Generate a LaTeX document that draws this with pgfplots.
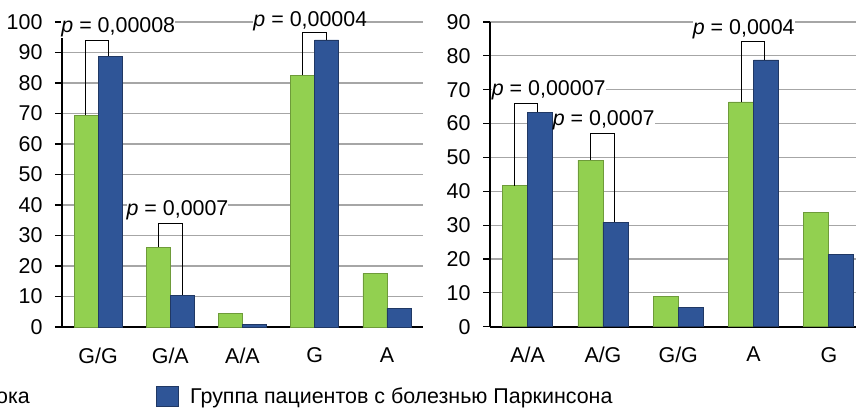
\documentclass[border=0pt]{standalone}
\usepackage{pgfplots}
\pgfplotsset{compat=1.18}
\usepackage{fontspec}
\setmainfont{Liberation Sans}
\definecolor{cgreen}{HTML}{92D050}
\definecolor{cgreenb}{HTML}{6E9B3A}
\definecolor{cblue}{HTML}{2F5597}
\definecolor{cblueb}{HTML}{203864}
\definecolor{cgrid}{HTML}{A6A6A6}
\newcommand{\fs}{\fontsize{21.5}{25}\selectfont}
\pgfplotsset{
  mybase/.style={
    scale only axis, ybar=0pt, ymin=0, xmin=-0.5, xmax=4.5,
    clip=false,
    axis lines*=left,
    axis line style={black, line width=2bp},
    ymajorgrids, grid style={cgrid, line width=1.2bp},
    xtick={0,1,2,3,4},
    major x tick style={draw=none},
    ytick style={black, line width=1.2bp},
    tick align=outside, major tick length=7bp,
    tick label style={font=\fs},
    /pgf/number format/assume math mode=true,
    xticklabel style={yshift=-10bp},
    yticklabel style={xshift=-9bp},
    anchor=south west,
  },
  bracket/.style={sharp plot, black, line width=1bp, forget plot},
}
\tikzset{plab/.style={fill=white, inner xsep=0pt, inner ysep=1bp, anchor=base, font=\fs}}
\begin{document}
\begin{tikzpicture}
\useasboundingbox (0,0) rectangle (856bp,409bp);
\clip (0,0) rectangle (856bp,409bp);
% left chart
\begin{axis}[mybase, width=361bp, height=305bp, at={(62bp,82bp)},
  ymax=100, ytick={0,10,...,100}, bar width=24bp,
  xticklabels={G/G,G/A,A/A,G,A}]
\addplot[fill=cgreen, draw=cgreenb, line width=0.8bp] coordinates {(0,69.5) (1,26.2) (2,4.4) (3,82.5) (4,17.6)};
\addplot[fill=cblue, draw=cblueb, line width=0.8bp] coordinates {(0,88.8) (1,10.4) (2,0.8) (3,94.1) (4,6.1)};
\addplot[bracket] coordinates {(-0.17,69.5) (-0.17,93.8) (0.15,93.8) (0.15,88.8)};
\addplot[bracket] coordinates {(0.83,26.2) (0.83,33.8) (1.17,33.8) (1.17,10.4)};
\addplot[bracket] coordinates {(2.83,82.5) (2.83,96.6) (3.17,96.6) (3.17,94.1)};
\node[plab] at (axis cs:0.28,96.7) {\textit{p} = 0,00008};
\node[plab] at (axis cs:1.10,36.7) {\textit{p} = 0,0007};
\node[plab] at (axis cs:2.94,98.4) {\textit{p} = 0,00004};
\end{axis}
% right chart
\begin{axis}[mybase, width=376.5bp, height=304.7bp, at={(490bp,82.3bp)},
  ymax=90, ytick={0,10,...,90}, bar width=25bp,
  xticklabels={A/A,A/G,G/G,A,G}]
\addplot[fill=cgreen, draw=cgreenb, line width=0.8bp] coordinates {(0,41.7) (1,49.2) (2,9.0) (3,66.4) (4,33.7)};
\addplot[fill=cblue, draw=cblueb, line width=0.8bp] coordinates {(0,63.3) (1,30.8) (2,5.8) (3,78.8) (4,21.3)};
\addplot[bracket] coordinates {(-0.174,41.7) (-0.174,65.8) (0.13,65.8) (0.13,63.3)};
\addplot[bracket] coordinates {(0.834,49.2) (0.834,57.0) (1.149,57.0) (1.149,30.8)};
\addplot[bracket] coordinates {(2.845,66.4) (2.845,84.3) (3.14,84.3) (3.14,78.8)};
\node[plab] at (axis cs:0.28,68.2) {\textit{p} = 0,00007};
\node[plab] at (axis cs:1.01,59.3) {\textit{p} = 0,0007};
\node[plab] at (axis cs:2.87,86.2) {\textit{p} = 0,0004};
\end{axis}
% legend
\node[anchor=base east, font=\fs, inner sep=0pt] at (30bp,5.7bp) {ока};
\draw[fill=cblue, draw=cblueb, line width=0.8bp] (156bp,2.3bp) rectangle (178bp,22.3bp);
\node[anchor=base west, font=\fs, inner sep=0pt] at (190bp,5.7bp) {Группа пациентов с болезнью Паркинсона};
\end{tikzpicture}
\end{document}
